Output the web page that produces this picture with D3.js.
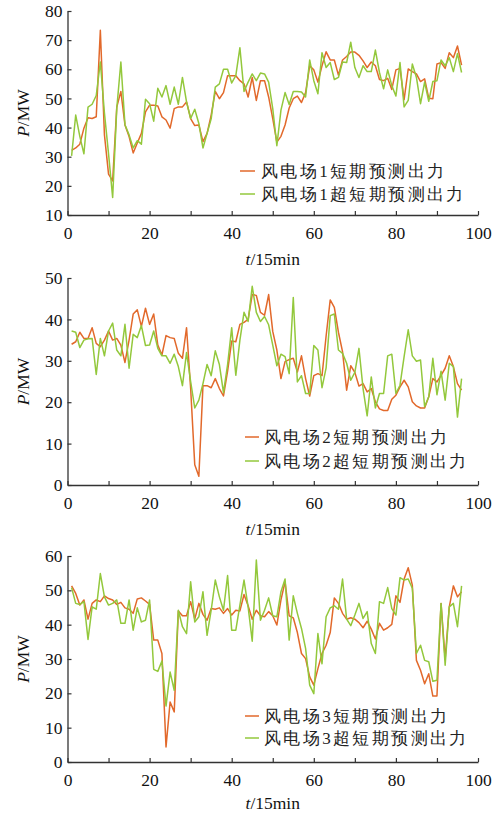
<!DOCTYPE html>
<html><head><meta charset="utf-8">
<script src="https://cdn.jsdelivr.net/npm/d3@7"></script>
<style>
html,body{margin:0;padding:0;background:#fff;}
svg{display:block;}
svg text{font-family:"Times New Roman","Liberation Serif",Times,serif;}
</style></head>
<body>
<svg id="chart" width="501" height="814"></svg>
<script>
// t = 1..96 (15-min intervals)
const farm1Short = [32.2,33,34.3,39.8,43.4,43.1,43.7,73.4,37.5,24,21.7,47,52.4,40.9,36.9,31.3,34.7,38,45.4,47.7,47.7,47.4,43.7,42.6,39.8,46.5,47.1,47.1,48.8,43.1,40.7,40.9,35.2,38,44.3,52.4,49.9,52,57.8,57.8,57.8,56.1,55,50.5,57.2,49.3,56.1,56.1,50.5,43.1,35,37,40.9,46.7,49.9,50.8,48.6,52,61.2,59.8,55.6,61.2,66,63.2,63.2,58,63.2,64.4,65.9,65.9,64.8,62.9,60.6,62.5,61.2,56.5,56.1,56.9,53.1,59.8,60.3,49.6,60.1,59.2,58.4,55.8,56.7,50.1,49.9,61.8,62.3,60.3,65.7,64,68,61.4];
const farm1Ultra = [30.3,44.3,37,31,47,48,51,62.5,45,31,16,46.5,62.5,41,37.5,33,35.5,34.3,49.7,48.2,42.2,53.5,50.5,54.4,48,53.9,48,57.2,48.8,43.1,46.3,41.4,33,38,43,53.9,55,60,60,55.3,57.8,67.4,52.4,55.6,58.4,56.1,58.7,58.4,55.6,46.5,33.8,46,52,47.9,52.4,52.4,52.2,50.5,63.2,56.1,51.6,65.7,60.6,62.3,56.5,57.2,62.5,62.3,69.3,60.6,57.2,61.2,59.2,59.2,66.6,58.9,53.3,59.8,54.4,50.8,62.3,47.1,49.3,61.8,57.2,48.2,55.6,49,55.8,56.1,63.2,61.2,64,59.2,65.4,58.9];
const farm2Short = [34,34.6,36.9,35.4,35.4,38,34.2,33.4,35,37.2,35,35.4,33.8,29.6,35,41.3,42.3,38.3,42.7,38.8,41.3,33.8,31.4,36.1,35.6,35.4,31.8,30.6,38,23.3,4.9,2.1,24,24,23.5,25.7,23.3,21.5,27.5,34.8,34.6,38.8,39.3,40,46,45.8,41.7,41,46,37.1,32.6,25.7,29.8,30.3,30.6,27.3,31.2,25.7,21.5,26.4,26.9,26.4,36,44.7,42.9,36.9,32.2,22.9,28.8,27.2,23.9,24.5,22.5,23.3,20.1,18.4,18,18,20.7,21.7,23.7,25.3,23.7,20.1,19.1,18.6,18.6,21.3,25.7,24.9,26.5,28.2,31.2,28.6,24.5,22.9];
const farm2Ultra = [37.2,36.9,33.2,35,35.3,35.4,26.7,35.4,31.2,37.2,39.1,32.6,31.2,38.8,28.2,36.4,35.6,38.5,33.7,33.8,37.2,33,31.2,31.2,29.4,31.6,28.6,24,32,25,18.6,20.5,24.5,29.1,26.4,32.4,29.1,22.3,29.1,38,26.5,35,41.7,39.5,48,41.7,39.5,40.7,38.7,33.8,28.8,31.6,31,26.9,45.3,24.9,26.4,22.1,22.1,33.7,32.6,23.5,28.3,40.9,41.3,32.6,31.8,29.4,25.3,27.2,33,23.3,16.7,26.1,18.6,22.1,22.1,31.2,31.6,22.1,24.1,31,37.5,31.2,29.9,30.2,18.9,21.3,30.6,21.8,27.5,20.5,29.4,28.6,16.4,25.7];
const farm3Short = [51.3,49.1,45.7,47.2,41.6,46.2,47.2,46.7,48.4,47.6,47.2,45.9,46.5,44.9,44.5,43.3,47.5,47.8,46.9,45.9,35.5,35.5,31.6,4.4,17.5,14.6,44,42.6,42.6,46.7,41.6,46.2,43,41.3,44.7,44.5,44.9,43.3,44.7,42.8,44.2,44,48.8,45.5,41.6,44.2,42.6,42.3,43.8,42.6,39.9,47.2,52.5,42.6,42,37.7,31.6,30.1,24.8,22.4,27.2,31.6,34,37.7,47.8,46.2,43.3,41.6,42,41.6,40.6,39.1,41,38.7,35.8,40.4,38.4,39.1,40.1,48.4,46.5,53.3,56.6,51.5,29.6,26.7,22.8,25.7,19.2,19.2,46.2,30,45.2,51.3,48.1,49.6];
const farm3Ultra = [50.8,46.2,45.9,46.7,35.7,45.2,44.5,54.9,48.1,45.7,46.2,47.2,40.4,40.4,47.2,38.4,44.9,40.8,41.3,47.2,27,26.4,29.4,16.3,26.2,20.9,44.2,39.4,37.4,52.5,40.8,42.3,49.6,36.9,44.2,53,48.1,44.2,54.3,38.4,38.4,45.7,53,45.2,35.2,58.8,41.3,44.2,47.8,42.6,42.3,49.6,53.3,35.5,48.4,43.3,38.9,33.1,22.4,19.9,37.4,28.6,42.3,44.9,45.5,44.5,53.3,41.6,39.7,42.8,46.2,41.8,43.8,34.5,31.6,46.7,46.2,50.8,44.7,42.8,53.7,53,53.3,50.6,31.6,34,29.6,29.2,23.5,23.8,46.2,28.2,45.2,46.2,39.4,51.3];

const xTicks = [0,10,20,30,40,50,60,70,80,90,100];
const xLabelTicks = [0,20,40,60,80,100];
const yTicks1 = [10,20,30,40,50,60,70,80];
const yTicks2 = [0,10,20,30,40,50];
const yTicks3 = [0,10,20,30,40,50,60];
const legend1 = ["风电场1短期预测出力","风电场1超短期预测出力"];
const legend2 = ["风电场2短期预测出力","风电场2超短期预测出力"];
const legend3 = ["风电场3短期预测出力","风电场3超短期预测出力"];
const xTitle = "/15min";
const yTitle = "/MW";

const ORANGE = "#e2692b";
const GREEN = "#93c83c";
const AXIS = "#333";
const SERIF = "'Times New Roman','Liberation Serif',Times,serif";

const svg = d3.select("#chart");
const x = d3.scaleLinear().domain([0,100]).range([67.5,478]);

const panels = [
  {short:farm1Short, ultra:farm1Ultra, dom:[10,80], top:11, bottom:215, ticks:yTicks1, legend:legend1, lx:[240,255], tx:261, ly:[171,194], xt:265},
  {short:farm2Short, ultra:farm2Ultra, dom:[0,50], top:278, bottom:485, ticks:yTicks2, legend:legend2, lx:[245,259], tx:264, ly:[437,461], xt:535},
  {short:farm3Short, ultra:farm3Ultra, dom:[0,60], top:556, bottom:762, ticks:yTicks3, legend:legend3, lx:[245,259], tx:264, ly:[716,738], xt:809}
];

panels.forEach(p => {
  const y = d3.scaleLinear().domain(p.dom).range([p.bottom, p.top]);
  const g = svg.append("g");

  const line = d3.line().x((d,i)=>x(i+1)).y(d=>y(d));
  g.append("path").datum(p.short).attr("d", line)
    .attr("fill","none").attr("stroke",ORANGE).attr("stroke-width",1.5).attr("stroke-linejoin","round");
  g.append("path").datum(p.ultra).attr("d", line)
    .attr("fill","none").attr("stroke",GREEN).attr("stroke-width",1.5).attr("stroke-linejoin","round");

  const xa = g.append("g").attr("transform",`translate(0,${p.bottom})`)
    .call(d3.axisBottom(x).tickValues(xTicks)
      .tickFormat(d => xLabelTicks.includes(d) ? d : "")
      .tickSize(-4).tickSizeOuter(0).tickPadding(12));
  const ya = g.append("g").attr("transform",`translate(${x(0)},0)`)
    .call(d3.axisLeft(y).tickValues(p.ticks).tickSize(-4).tickSizeOuter(0).tickPadding(5));
  [xa,ya].forEach(a => {
    a.attr("font-family", SERIF).attr("font-size", 17.5);
    a.selectAll(".tick text").attr("fill","#111");
    a.select(".domain").attr("stroke",AXIS).attr("stroke-width",1.3);
    a.selectAll(".tick line").attr("stroke",AXIS).attr("stroke-width",1.2);
  });

  // x title
  const xt = g.append("text").attr("x",(x(0)+x(100))/2).attr("y",p.xt)
    .attr("text-anchor","middle")
    .attr("font-family",SERIF).attr("font-size",17.5).attr("fill","#111");
  xt.append("tspan").attr("font-style","italic").text("t");
  xt.append("tspan").text(xTitle);

  // y title
  const yt = g.append("text")
    .attr("transform",`translate(29,${(p.top+p.bottom)/2}) rotate(-90)`)
    .attr("text-anchor","middle")
    .attr("font-family",SERIF).attr("font-size",17.5).attr("fill","#111");
  yt.append("tspan").attr("font-style","italic").text("P");
  yt.append("tspan").text(yTitle);

  // legend
  [ORANGE,GREEN].forEach((c,k) => {
    g.append("line").attr("x1",p.lx[0]).attr("x2",p.lx[1]).attr("y1",p.ly[k]).attr("y2",p.ly[k])
      .attr("stroke",c).attr("stroke-width",1.5);
    g.append("text").attr("x",p.tx).attr("y",p.ly[k]).attr("dy","0.36em")
      .attr("font-family","'Times New Roman','Liberation Serif','Noto Sans CJK SC',serif").attr("font-size",17)
      .style("letter-spacing","2.4px").attr("fill","#222").text(p.legend[k]);
  });
});
</script>
</body></html>
